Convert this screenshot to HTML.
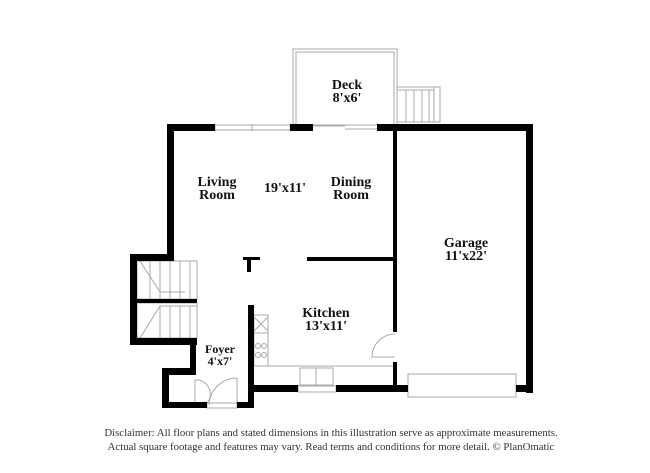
<!DOCTYPE html>
<html><head><meta charset="utf-8"><style>
html,body{margin:0;padding:0;background:#fff;width:650px;height:473px;overflow:hidden}
svg{display:block}
.t{font-family:"Liberation Serif",serif;font-weight:bold;font-size:14px;fill:#111;text-anchor:middle}
.d{font-family:"Liberation Serif",serif;font-size:10.8px;fill:#333;text-anchor:middle}
</style></head><body>
<svg width="650" height="473" viewBox="0 0 650 473">
<g fill="none" stroke="#aaa" stroke-width="1">
<rect x="293" y="49" width="104" height="76"/>
<rect x="296" y="52" width="98" height="73"/>
<rect x="397" y="87" width="43" height="35"/>
<line x1="397" y1="90" x2="434" y2="90"/><line x1="434" y1="87" x2="434" y2="122"/>
<line x1="406" y1="90" x2="406" y2="122"/><line x1="414" y1="90" x2="414" y2="122"/>
<line x1="422" y1="90" x2="422" y2="122"/><line x1="429" y1="90" x2="429" y2="122"/>
<rect x="215" y="125" width="75" height="5"/><line x1="252" y1="124" x2="252" y2="131"/>
<line x1="313" y1="126" x2="345" y2="126"/><line x1="345" y1="129" x2="377" y2="129"/>
<rect x="137" y="261" width="60" height="38"/>
<line x1="150" y1="261" x2="150" y2="299"/><line x1="160" y1="261" x2="160" y2="299"/><line x1="170" y1="261" x2="170" y2="299"/><line x1="180" y1="261" x2="180" y2="299"/><line x1="190" y1="261" x2="190" y2="299"/>
<line x1="140" y1="261" x2="160" y2="292"/><line x1="160" y1="292" x2="185" y2="292"/>
<rect x="137" y="303" width="60" height="35"/>
<line x1="160" y1="306" x2="160" y2="338"/><line x1="170" y1="306" x2="170" y2="338"/><line x1="180" y1="306" x2="180" y2="338"/><line x1="190" y1="306" x2="190" y2="338"/>
<line x1="140" y1="338" x2="160" y2="306"/><line x1="160" y1="306" x2="197" y2="306"/>
<path d="M195 380 A14 14 0 0 1 207 403"/><line x1="195" y1="380" x2="195" y2="403"/>
<path d="M237 378 A28 28 0 0 0 209 405"/><line x1="237" y1="378" x2="237" y2="405"/>
<rect x="207" y="403" width="30" height="5"/>
<path d="M395 334 A23 23 0 0 0 372 357 L395 357"/>
<rect x="254" y="315" width="14" height="51"/>
<line x1="254" y1="333" x2="268" y2="333"/>
<line x1="254" y1="317" x2="268" y2="331"/><line x1="268" y1="317" x2="254" y2="331"/>
<circle cx="258" cy="346" r="2.5"/><circle cx="264" cy="346" r="2.5"/><circle cx="258" cy="355" r="2.5"/><circle cx="264" cy="355" r="2.5"/>
<line x1="268" y1="366" x2="393" y2="366"/>
<rect x="300" y="368" width="33" height="17"/><line x1="316" y1="368" x2="316" y2="385"/>
<rect x="298" y="386" width="38" height="6"/>
<rect x="408" y="374" width="108" height="23"/>
</g>
<g fill="#000">
<rect x="167" y="124" width="48" height="7"/>
<rect x="290" y="124" width="23" height="7"/>
<rect x="377" y="124" width="156" height="7"/>
<rect x="167" y="124" width="7" height="136"/>
<rect x="526" y="124" width="7" height="269"/>
<rect x="130" y="254" width="44" height="7"/>
<rect x="130" y="254" width="7" height="91"/>
<rect x="137" y="299" width="60" height="4"/>
<rect x="130" y="338" width="67" height="7"/>
<rect x="190" y="338" width="6" height="37"/>
<rect x="162" y="368" width="34" height="7"/>
<rect x="162" y="368" width="7" height="40"/>
<rect x="162" y="402" width="45" height="6"/>
<rect x="237" y="402" width="17" height="6"/>
<rect x="248" y="305" width="6" height="103"/>
<rect x="243" y="257" width="17" height="3"/><rect x="247" y="257" width="4" height="15"/>
<rect x="307" y="257" width="87" height="4"/>
<rect x="393" y="131" width="4" height="201"/>
<rect x="393" y="362" width="4" height="30"/>
<rect x="248" y="385" width="50" height="7"/>
<rect x="336" y="385" width="72" height="7"/>
<rect x="516" y="385" width="17" height="7"/>
</g>
<text class="t" x="347" y="89">Deck</text><text class="t" x="347" y="102">8'x6'</text>
<text class="t" x="217" y="186">Living</text><text class="t" x="217" y="199">Room</text>
<text class="t" x="285" y="192">19'x11'</text>
<text class="t" x="351" y="186">Dining</text><text class="t" x="351" y="199">Room</text>
<text class="t" x="466" y="247">Garage</text><text class="t" x="466" y="260">11'x22'</text>
<text class="t" x="326" y="317">Kitchen</text><text class="t" x="326" y="330">13'x11'</text>
<text class="t" x="220" y="353" style="font-size:12px">Foyer</text><text class="t" x="220" y="365" style="font-size:12px">4'x7'</text>
<text class="d" x="331" y="436">Disclaimer: All floor plans and stated dimensions in this illustration serve as approximate measurements.</text>
<text class="d" x="331" y="450">Actual square footage and features may vary. Read terms and conditions for more detail. © PlanOmatic</text>
</svg>
</body></html>
